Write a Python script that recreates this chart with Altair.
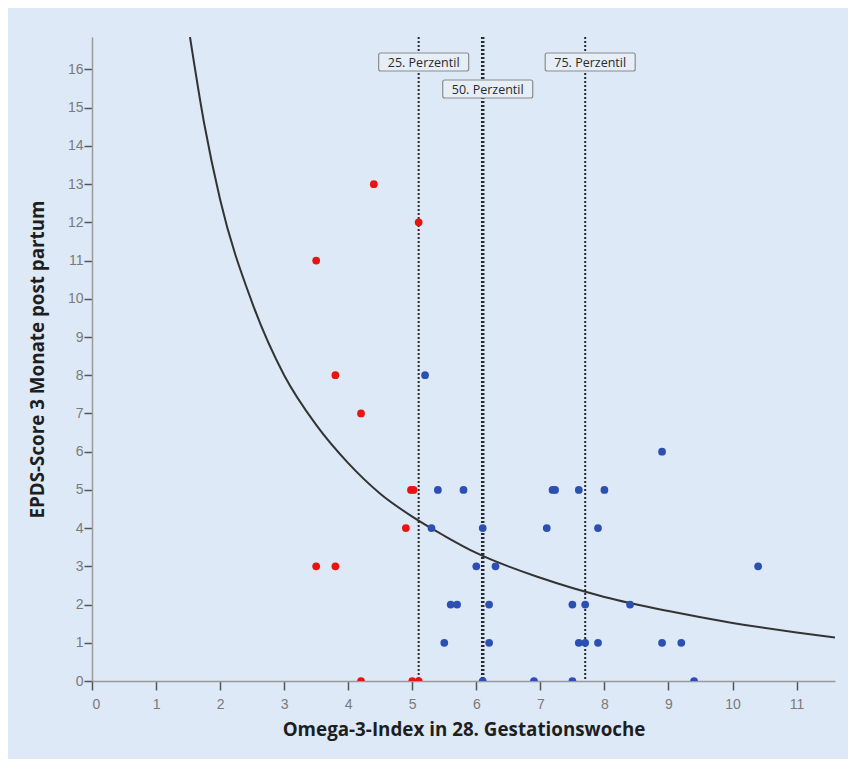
import altair as alt
import pandas as pd

# ---- data ----
red_x = [4.4, 5.1, 3.5, 3.8, 4.2, 4.98, 5.02, 4.9, 3.5, 3.8, 4.2, 5.0, 5.1]
red_y = [13, 12, 11, 8, 7, 5, 5, 4, 3, 3, 0, 0, 0]

blue_x = [5.2, 5.4, 5.8, 7.19, 7.23, 7.6, 8.0, 8.9, 5.3, 6.1, 7.1, 7.9, 6.0, 6.3,
          10.4, 5.6, 5.7, 6.2, 7.5, 7.7, 8.4, 5.5, 6.2, 7.6, 7.7, 7.9, 8.9, 9.2,
          6.1, 6.9, 7.5, 9.4]
blue_y = [8, 5, 5, 5, 5, 5, 5, 6, 4, 4, 4, 4, 3, 3,
          3, 2, 2, 2, 2, 2, 2, 1, 1, 1, 1, 1, 1, 1,
          0, 0, 0, 0]

# fitted curve
curve_x = [1.53, 1.75, 2.0, 2.5, 3.0, 3.5, 4.0, 4.5, 5.0, 5.5, 6.0, 7.0, 8.0, 9.0, 10.0, 11.0, 11.6]
curve_y = [16.85, 14.6, 12.6, 9.9, 8.0, 6.7, 5.7, 4.9, 4.3, 3.8, 3.35, 2.7, 2.2, 1.83, 1.52, 1.27, 1.14]

perc_x = [5.1, 6.1, 7.7]
perc_label = ["25. Perzentil", "50. Perzentil", "75. Perzentil"]
perc_width = [2, 3.5, 2]

x_ticks = list(range(0, 12))
y_ticks = list(range(0, 17))

BG = "#dde9f6"

points = pd.DataFrame({
    "x": red_x + blue_x,
    "y": red_y + blue_y,
    "g": ["low"] * len(red_x) + ["high"] * len(blue_x),
})
curve = pd.DataFrame({"x": curve_x, "y": curve_y})
perc = pd.DataFrame({"x": perc_x, "label": perc_label, "w": perc_width})

xs = alt.Scale(domain=[0, 11.6], nice=False, zero=False)
ys = alt.Scale(domain=[0, 16.85], nice=False, zero=False)

x_axis = alt.Axis(values=x_ticks, format="d", title="Omega-3-Index in 28. Gestationswoche",
                  grid=False, tickSize=9, labelPadding=7, titlePadding=9)
y_axis = alt.Axis(values=y_ticks, format="d", title="EPDS-Score 3 Monate post partum",
                  grid=False, tickSize=8, labelPadding=1, titlePadding=20)

base_axes = alt.Chart(curve).mark_line(opacity=0).encode(
    x=alt.X("x:Q", scale=xs, axis=x_axis),
    y=alt.Y("y:Q", scale=ys, axis=y_axis),
)

curve_line = alt.Chart(curve).mark_line(
    color="#333333", strokeWidth=2, interpolate="monotone", clip=True
).encode(x=alt.X("x:Q", scale=xs), y=alt.Y("y:Q", scale=ys))

perc_lines = alt.Chart(perc).mark_rule(
    color="#2a2a2a", strokeDash=[2, 2]
).encode(
    x=alt.X("x:Q", scale=xs),
    y=alt.value(0),
    y2=alt.value(644),
    strokeWidth=alt.StrokeWidth("w:Q", scale=None, legend=None),
)

pts = alt.Chart(points).mark_circle(size=60, opacity=1, clip=True).encode(
    x=alt.X("x:Q", scale=xs),
    y=alt.Y("y:Q", scale=ys),
    color=alt.Color("g:N", scale=alt.Scale(domain=["low", "high"],
                                           range=["#e8140f", "#2c4fb2"]), legend=None),
)

def label_layer(names, y0):
    src = alt.Chart(perc).transform_filter(
        alt.FieldOneOfPredicate(field="label", oneOf=names))
    box = src.mark_rect(fill="#e6eef8", stroke="#8c8c8c", strokeWidth=1.2,
                        cornerRadius=2, xOffset=-40, x2Offset=50).encode(
        x=alt.X("x:Q", scale=xs), x2="x:Q",
        y=alt.value(y0), y2=alt.value(y0 + 18))
    txt = src.mark_text(font="Open Sans", fontSize=12.5, color="#2a2a2a",
                        align="center", baseline="middle", dx=5).encode(
        x=alt.X("x:Q", scale=xs), y=alt.value(y0 + 9.5), text="label:N")
    return box + txt

labels_top = label_layer(["25. Perzentil", "75. Perzentil"], 16)
labels_mid = label_layer(["50. Perzentil"], 43)

chart = alt.layer(
    base_axes, curve_line, perc_lines, pts, labels_top, labels_mid
).properties(
    width=743, height=644, background=BG,
    padding={"left": 84, "top": 29, "right": 13, "bottom": 78},
    autosize=alt.AutoSizeParams(type="none"),
).configure_view(stroke=None, fill=BG).configure_axis(
    domainColor="#9a9a9a", domainWidth=1.5,
    tickColor="#555555", tickWidth=1.5,
    labelColor="#7a7a7a", labelFont="Liberation Sans", labelFontSize=14,
    titleFont="Open Sans", titleFontWeight="bold", titleFontSize=18.8, titleColor="#1e1e1e",
)

chart.save("out.html", embed_options={"renderer": "svg", "actions": False})
